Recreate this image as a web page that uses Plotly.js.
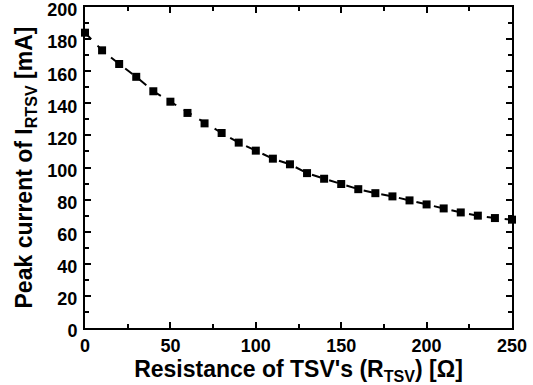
<!DOCTYPE html>
<html>
<head>
<meta charset="utf-8">
<script src="https://cdn.plot.ly/plotly-3.0.1.min.js"></script>
<style>html,body{margin:0;padding:0;background:#fff;}#chart{width:533px;height:385px;}</style>
</head>
<body>
<div id="chart"></div>
<script>
const resistance = [0,10,20,30,40,50,60,70,80,90,100,110,120,130,140,150,160,170,180,190,200,210,220,230,240,250];
const peakCurrent = [184,173,164.5,156.5,147.5,141,134,127.5,121.5,115.5,110.5,105.5,102,96.5,93,89.7,86.5,84,82,79.5,77,74.5,72,70,68.5,67.5];
const xTickVals = [0,50,100,150,200,250];
const yTickVals = [0,20,40,60,80,100,120,140,160,180,200];
const xTitle = "Resistance of TSV's (R<sub>TSV</sub>) [Ω]";
const yTitle = "Peak current of I<sub>RTSV</sub> [mA]";

const fam = "Liberation Sans";
const trace = {
  x: resistance, y: peakCurrent, type: "scatter", mode: "lines+markers",
  line: {color: "#000", width: 2, dash: "dash"},
  marker: {symbol: "square", size: 8, color: "#000"},
  hoverinfo: "skip", cliponaxis: false
};
const axisCommon = {
  showline: true, linecolor: "#000", linewidth: 2, mirror: "ticks",
  ticks: "inside", ticklen: 6, tickwidth: 2, tickcolor: "#000",
  showgrid: false, zeroline: false, tickmode: "array",
  tickfont: {family: fam, size: 18, color: "#000", weight: "bold"}
};
const layout = {
  width: 533, height: 385,
  margin: {l: 85, r: 21, t: 7, b: 57},
  paper_bgcolor: "#fff", plot_bgcolor: "#fff",
  showlegend: false,
  xaxis: Object.assign({}, axisCommon, {
    range: [0, 250], tickvals: xTickVals, ticklabelstandoff: 0,
    minor: {tickvals: [25,75,125,175,225], ticks: "inside", ticklen: 4, tickwidth: 2, tickcolor: "#000"},
    title: {text: xTitle, standoff: 8, font: {family: fam, size: 23, color: "#000", weight: "bold"}}
  }),
  yaxis: Object.assign({}, axisCommon, {
    range: [0, 200], tickvals: yTickVals, ticklabelshift: 3, ticklabelstandoff: 2,
    minor: {tickvals: [10,30,50,70,90,110,130,150,170,190], ticks: "inside", ticklen: 4, tickwidth: 2, tickcolor: "#000"},
    title: {text: yTitle, standoff: 8, font: {family: fam, size: 23, color: "#000", weight: "bold"}}
  })
};
Plotly.newPlot("chart", [trace], layout, {staticPlot: true, displayModeBar: false});
</script>
</body>
</html>
